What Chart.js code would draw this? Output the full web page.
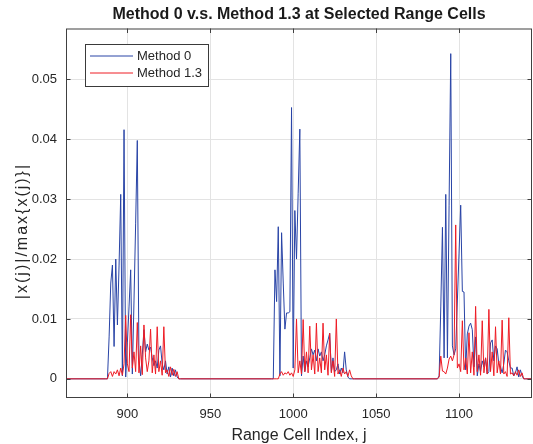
<!DOCTYPE html>
<html>
<head>
<meta charset="utf-8">
<title>Method 0 v.s. Method 1.3</title>
<script src="https://cdn.jsdelivr.net/npm/chart.js@4.4.1/dist/chart.umd.min.js"></script>
<style>
  html, body { margin: 0; padding: 0; background: #fff; }
  #wrap { width: 533px; height: 444px; position: relative; }
</style>
</head>
<body>
<div id="wrap"><canvas id="chart"></canvas></div>
<script>
// Axis limits and ticks
const xMin = 863;
const xMax = 1144;
const xTicks = [900, 950, 1000, 1050, 1100];
const yMin = -0.0032;
const yMax = 0.0585;
const yTicks = [0, 0.01, 0.02, 0.03, 0.04, 0.05];

// first range cell index of each non-zero block
const blockStarts = [887, 987, 1087];

// Method 0, |x(j)|/max{x(j)} per range cell, starting at blockStarts[k]
const method0Block1 = [
  0, 0, 0.007, 0.016, 0.019, 0.0054, 0.020, 0.009, 0.019, 0.0308,
  0.0005, 0.0416, 0.0003, 0.006, 0.012, 0.0182, 0.0008, 0.013, 0.026, 0.0398,
  0.003, 0.0005, 0.004, 0.0082, 0.0045, 0.0058, 0.0048, 0.0053, 0.0035, 0.0022,
  0.003, 0.0018, 0.0048, 0.0055, 0.0025, 0.0015, 0.003, 0.0008, 0.002, 0.0003,
  0.0018, 0.0005, 0.0015, 0.0003, 0, 0
];
const method0Block2 = [
  0, 0, 0.0182, 0.0129, 0.0254, 0.0005, 0.0244, 0.016, 0.0083, 0.011,
  0.011, 0.0112, 0.0453, 0.0018, 0.0281, 0.020, 0.031, 0.0417, 0.0005, 0.0038,
  0.0012, 0.003, 0.002, 0.0035, 0.005, 0.004, 0.0048, 0.003, 0.005, 0.0038,
  0.0045, 0.003, 0.004, 0.0055, 0.0065, 0.0076, 0.0012, 0.0035, 0.0012, 0.0015,
  0.0025, 0.0008, 0.0018, 0.001, 0.0045, 0.0015, 0.0003, 0, 0, 0, 0
];
const method0Block3 = [
  0, 0.0005, 0.012, 0.0253, 0.0035, 0.0308, 0.0035, 0.029, 0.0543, 0.0055,
  0.004, 0.005, 0.013, 0.021, 0.029, 0.0146, 0.0145, 0.0015, 0.0075, 0.0088,
  0.0093, 0.0082, 0.002, 0.007, 0.0005, 0.0025, 0.0012, 0.003, 0.002, 0.0035,
  0.0008, 0.0012, 0.006, 0.0065, 0.003, 0.0055, 0.005, 0.0025, 0.002, 0.001,
  0.0025, 0.0048, 0.0045, 0.003, 0.0018, 0.0018, 0.0005, 0.001, 0.002, 0.0003,
  0.0015, 0.0005, 0, 0, 0
];

// Method 1.3, same blocks
const method13Block1 = [
  0, 0, 0.0009, 0.0012, 0.0004, 0.0012, 0.0008, 0.0015, 0.0005, 0.0018,
  0.0006, 0.0025, 0.0106, 0.0025, 0.0012, 0.0107, 0.0018, 0.0045, 0.0012, 0.0094,
  0.001, 0.0055, 0.0007, 0.009, 0.0035, 0.0012, 0.003, 0.0083, 0.001, 0.004,
  0.0008, 0.0087, 0.0012, 0.003, 0.0006, 0.0087, 0.001, 0.0015, 0.0004, 0.002,
  0.0006, 0.0016, 0.0004, 0.0012, 0, 0
];
const method13Block2 = [
  0, 0, 0, 0, 0, 0.0008, 0.0012, 0.0006, 0.001, 0.0008,
  0.0012, 0.0006, 0.001, 0.0004, 0.0015, 0.010, 0.001, 0.003, 0.0008, 0.0099,
  0.0012, 0.0045, 0.001, 0.0088, 0.0015, 0.004, 0.0008, 0.0093, 0.0012, 0.0035,
  0.001, 0.0093, 0.0015, 0.004, 0.0006, 0.0076, 0.001, 0.003, 0.0004, 0.010,
  0.0008, 0.0015, 0.0004, 0.0018, 0.0008, 0.0012, 0.0004, 0.0015, 0.0005, 0, 0
];
const method13Block3 = [
  0, 0.0003, 0.0038, 0.0013, 0.0012, 0.0008, 0.0018, 0.0033, 0.0038, 0.003,
  0.004, 0.0257, 0.0018, 0.0025, 0.0012, 0.0097, 0.0015, 0.0035, 0.0008, 0.0077,
  0.001, 0.0045, 0.0006, 0.0121, 0.0012, 0.004, 0.0006, 0.0097, 0.001, 0.0035,
  0.0008, 0.0116, 0.0012, 0.0045, 0.0005, 0.0087, 0.001, 0.003, 0.0008, 0.0098,
  0.0008, 0.0012, 0.0004, 0.0102, 0.0008, 0.001, 0.0005, 0.0012, 0.0006, 0.0015,
  0.0004, 0.001, 0, 0, 0
];

const seriesNames = ["Method 0", "Method 1.3"];
const seriesColors = ["#2944a6", "#ee1c25"];

const chartTitle = "Method 0 v.s. Method 1.3 at Selected Range Cells";
const xTitle = "Range Cell Index, j";
const yTitle = "|x(j)|/max{x(j)}|";

const axisColor = "#404040";
const textColor = "#262626";
const gridColor = "#e3e3e3";
const fontFamily = "'Liberation Sans', Arial, Helvetica, sans-serif";

// blocks -> {x, y} points, flat zero between blocks
function buildSeries(blocks) {
  const pts = [{ x: xMin, y: 0 }];
  blocks.forEach((vals, k) => {
    vals.forEach((v, i) => pts.push({ x: blockStarts[k] + i, y: v }));
  });
  pts.push({ x: xMax, y: 0 });
  return pts;
}

// box, inward ticks, titles and legend, matlab style
const matlabFrame = {
  id: "matlabFrame",
  afterDraw(chart) {
    const { ctx, chartArea: a, scales: { x, y } } = chart;
    const midX = (a.left + a.right) / 2;
    ctx.save();
    ctx.strokeStyle = axisColor;
    ctx.lineWidth = 1;
    ctx.strokeRect(a.left + 0.5, a.top + 0.5, a.right - a.left - 1, a.bottom - a.top - 1);

    const tl = 4.5;
    ctx.beginPath();
    xTicks.forEach(t => {
      const px = Math.round(x.getPixelForValue(t)) + 0.5;
      ctx.moveTo(px, a.bottom); ctx.lineTo(px, a.bottom - tl);
      ctx.moveTo(px, a.top); ctx.lineTo(px, a.top + tl);
    });
    yTicks.forEach(t => {
      const py = Math.round(y.getPixelForValue(t)) + 0.5;
      ctx.moveTo(a.left, py); ctx.lineTo(a.left + tl, py);
      ctx.moveTo(a.right, py); ctx.lineTo(a.right - tl, py);
    });
    ctx.stroke();

    // chart title, centred over the plot box
    ctx.textAlign = "center";
    ctx.textBaseline = "middle";
    ctx.fillStyle = "#1a1a1a";
    ctx.font = "bold 16px " + fontFamily;
    ctx.fillText(chartTitle, midX, 15);

    // axis titles
    ctx.fillStyle = textColor;
    ctx.font = "16px " + fontFamily;
    ctx.fillText(xTitle, midX, 436);
    ctx.save();
    ctx.translate(23, 232);
    ctx.rotate(-Math.PI / 2);
    ctx.letterSpacing = "2px";
    ctx.fillText(yTitle, 1, 0);
    ctx.restore();

    // legend box
    const lx = 85.5, ly = 44.5, lw = 123, lh = 42;
    ctx.fillStyle = "#fff";
    ctx.fillRect(lx, ly, lw, lh);
    ctx.strokeStyle = "#3a3a3a";
    ctx.strokeRect(lx, ly, lw, lh);
    ctx.font = "13px " + fontFamily;
    ctx.textAlign = "left";
    seriesNames.forEach((name, i) => {
      const rowY = 56 + i * 17;
      ctx.strokeStyle = seriesColors[i];
      ctx.beginPath();
      ctx.moveTo(90, rowY);
      ctx.lineTo(133, rowY);
      ctx.stroke();
      ctx.fillStyle = textColor;
      ctx.fillText(name, 137, rowY);
    });
    ctx.restore();
  }
};

new Chart(document.getElementById("chart"), {
  type: "line",
  data: {
    datasets: [
      {
        label: seriesNames[0],
        data: buildSeries([method0Block1, method0Block2, method0Block3]),
        borderColor: seriesColors[0],
        borderWidth: 1,
        pointRadius: 0,
        tension: 0,
        order: 1
      },
      {
        label: seriesNames[1],
        data: buildSeries([method13Block1, method13Block2, method13Block3]),
        borderColor: seriesColors[1],
        borderWidth: 1,
        pointRadius: 0,
        tension: 0,
        order: 0
      }
    ]
  },
  options: {
    responsive: true,
    maintainAspectRatio: false,
    devicePixelRatio: 1,
    animation: false,
    events: [],
    layout: { padding: { left: 0, right: 1, top: 28.5, bottom: 0 } },
    plugins: {
      legend: { display: false },
      tooltip: { enabled: false },
      title: { display: false }
    },
    scales: {
      x: {
        type: "linear",
        min: xMin,
        max: xMax,
        afterBuildTicks: s => { s.ticks = xTicks.map(v => ({ value: v })); },
        afterFit: s => { s.height = 46; },
        grid: { color: gridColor, drawTicks: false },
        border: { display: false },
        ticks: {
          color: textColor,
          padding: 9,
          maxRotation: 0,
          font: { family: fontFamily, size: 13 },
          callback: v => String(v)
        }
      },
      y: {
        type: "linear",
        min: yMin,
        max: yMax,
        afterBuildTicks: s => { s.ticks = yTicks.map(v => ({ value: v })); },
        afterFit: s => { s.width = 66; },
        grid: { color: gridColor, drawTicks: false },
        border: { display: false },
        ticks: {
          color: textColor,
          padding: 9,
          font: { family: fontFamily, size: 13 },
          callback: v => String(v)
        }
      }
    }
  },
  plugins: [matlabFrame]
});
</script>
</body>
</html>
